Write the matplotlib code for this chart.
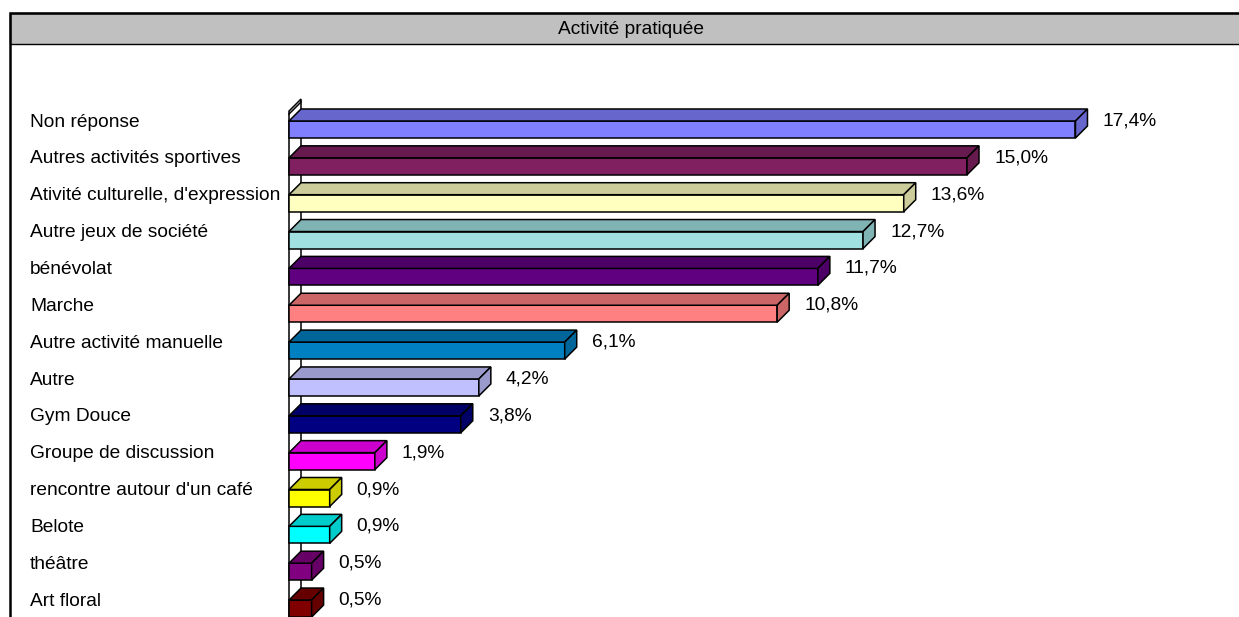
import matplotlib
matplotlib.use("Agg")
import matplotlib.pyplot as plt
from matplotlib.patches import Polygon, Rectangle
from matplotlib.transforms import blended_transform_factory
from matplotlib.colors import to_rgb

plt.rcParams['font.family'] = ['Liberation Sans', 'DejaVu Sans']

title = "Activité pratiquée"
categories = [
    "Non réponse", "Autres activités sportives", "Ativité culturelle, d'expression",
    "Autre jeux de société", "bénévolat", "Marche", "Autre activité manuelle",
    "Autre", "Gym Douce", "Groupe de discussion", "rencontre autour d'un café",
    "Belote", "théâtre", "Art floral",
]
values = [17.4, 15.0, 13.6, 12.7, 11.7, 10.8, 6.1, 4.2, 3.8, 1.9, 0.9, 0.9, 0.5, 0.5]
colors = [
    "#8080FF", "#802060", "#FFFFC0", "#A0E0E0", "#600080", "#FF8080", "#0080C0",
    "#C0C0FF", "#000080", "#FF00FF", "#FFFF00", "#00FFFF", "#800080", "#800000",
]

W, H = 1239, 617
fig = plt.figure(figsize=(W / 100, H / 100), dpi=100)
ax = fig.add_axes([0, 0, 1, 1])

# pixel geometry of the plot: x=0 at 289 px, 45.2 px per percent, rows 36.85 px apart
px_per_pct = 45.2
row_px = 36.85
x0_px, y0_px = 289, 129.5
ax.set_xlim(-x0_px / px_per_pct, (W - x0_px) / px_per_pct)
ax.set_ylim((H - y0_px) / row_px, -y0_px / row_px)
ax.axis('off')

dx = 12 / px_per_pct      # depth offset along x
dy = 12 / row_px          # depth offset along y
hh = 8.5 / row_px         # half height of the front face
lw = 1.1
fs = 13.8

def darker(c, f=0.8):
    r, g, b = to_rgb(c)
    return (r * f, g * f, b * f)

n = len(categories)
bottom = n + 1

# side wall
wall = Polygon([(0, bottom), (0, -0.5), (dx, -0.5 - dy), (dx, bottom)],
               closed=True, facecolor='white', edgecolor='black', lw=lw, zorder=1)
ax.add_patch(wall)
ax.plot([0, dx], [-0.42, -0.42 - dy], color='black', lw=lw, zorder=1)

for i, (v, c) in enumerate(zip(values, colors)):
    top, bot = i - hh, i + hh
    dark = darker(c)
    front = Polygon([(0, top), (v, top), (v, bot), (0, bot)], closed=True,
                    facecolor=c, edgecolor='black', lw=lw, zorder=3)
    lid = Polygon([(0, top), (dx, top - dy), (v + dx, top - dy), (v, top)], closed=True,
                  facecolor=dark, edgecolor='black', lw=lw, zorder=3)
    side = Polygon([(v, top), (v + dx, top - dy), (v + dx, bot - dy), (v, bot)], closed=True,
                   facecolor=dark, edgecolor='black', lw=lw, zorder=3)
    for p in (front, lid, side):
        ax.add_patch(p)
    ax.text(v + dx + 15 / px_per_pct, i - 0.23, f"{v:.1f}%".replace('.', ','),
            ha='left', va='center', fontsize=fs, color='black')

# category labels at a fixed left margin
trans = blended_transform_factory(fig.transFigure, ax.transData)
for i, name in enumerate(categories):
    ax.text(30 / W, i - 0.2, name, transform=trans, ha='left', va='center',
            fontsize=fs, color='black')

# frame and title bar
fig.add_artist(Rectangle((10 / W, -0.1), 1.0, (H - 13) / H + 0.1, transform=fig.transFigure,
                         facecolor='none', edgecolor='black', lw=1.8, zorder=10))
fig.add_artist(Rectangle((10 / W, (H - 44) / H), 1.0, 31 / H, transform=fig.transFigure,
                         facecolor='#C0C0C0', edgecolor='black', lw=1.0, zorder=9))
fig.text(631 / W, (H - 30) / H, title, ha='center', va='center', fontsize=fs, zorder=11)

fig.savefig("out.png", dpi=100)
